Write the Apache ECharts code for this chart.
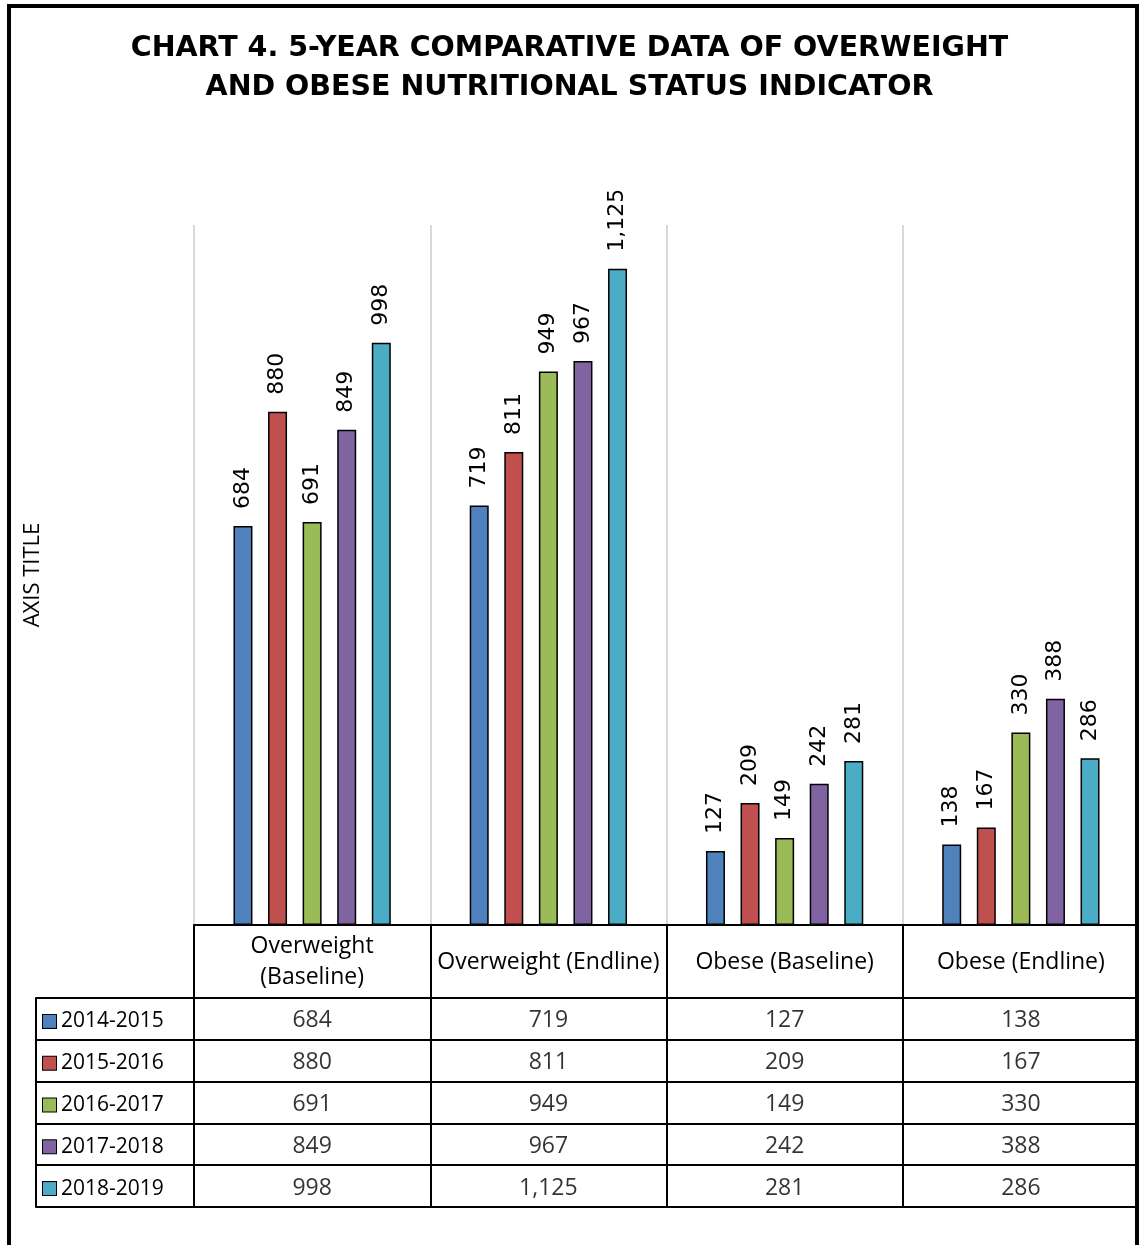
<!DOCTYPE html>
<html>
<head>
<meta charset="utf-8">
<script src="https://cdn.jsdelivr.net/npm/echarts@6/dist/echarts.min.js"></script>
<style>
html,body{margin:0;padding:0;background:#fff;}
#chart{width:1139px;height:1245px;}
</style>
</head>
<body>
<div id="chart"></div>
<script>
// ---- data ----
const categories = ['Overweight (Baseline)', 'Overweight (Endline)', 'Obese (Baseline)', 'Obese (Endline)'];
const headerLabels = ['Overweight\n(Baseline)', 'Overweight (Endline)', 'Obese (Baseline)', 'Obese (Endline)'];
const years = ['2014-2015', '2015-2016', '2016-2017', '2017-2018', '2018-2019'];
const v2014 = [684, 719, 127, 138];
const v2015 = [880, 811, 209, 167];
const v2016 = [691, 949, 149, 330];
const v2017 = [849, 967, 242, 388];
const v2018 = [998, 1125, 281, 286];
const seriesValues = [v2014, v2015, v2016, v2017, v2018];
const colors = ['#4f81bd', '#c0504d', '#9bbb59', '#8064a2', '#4bacc6'];
const yMin = 0, yMax = 1200;

const fmt = v => Number(v).toLocaleString('en-US');
const tableFont = 'Open Sans';

const chart = echarts.init(document.getElementById('chart'), null, {renderer: 'canvas'});

const rich = {t: {fontSize: 21, fontFamily: tableFont, color: '#000', padding: [0, 0, 0, 5]}};
colors.forEach((c, i) => {
  rich['s' + i] = {width: 13, height: 13, backgroundColor: c, borderColor: '#000', borderWidth: 1};
});

const barSeries = years.map((y, i) => ({
  name: y,
  type: 'bar',
  xAxisIndex: 0,
  yAxisIndex: 0,
  data: seriesValues[i],
  barWidth: 19,
  barGap: '82%',
  itemStyle: {color: colors[i], borderColor: '#000', borderWidth: 1.5},
  label: {
    show: true,
    position: 'top',
    rotate: 90,
    align: 'left',
    verticalAlign: 'middle',
    distance: 17,
    fontFamily: 'DejaVu Sans',
    fontSize: 22,
    color: '#000',
    formatter: p => fmt(p.value)
  }
}));

const cellData = [];
years.forEach((y, r) => {
  categories.forEach((c, ci) => {
    cellData.push({value: [ci, r], raw: seriesValues[r][ci]});
  });
});

const option = {
  backgroundColor: '#fff',
  animation: false,
  title: {
    text: 'CHART 4. 5-YEAR COMPARATIVE DATA OF OVERWEIGHT\nAND OBESE NUTRITIONAL STATUS INDICATOR',
    left: 'center',
    top: 24,
    textStyle: {fontFamily: 'DejaVu Sans', fontWeight: 'bold', fontSize: 28.5, lineHeight: 39, color: '#000'}
  },
  grid: [
    {left: 194, top: 225, width: 947, height: 700, containLabel: false},
    {left: 194, top: 998, width: 947, height: 209, containLabel: false}
  ],
  xAxis: [
    {
      type: 'category', gridIndex: 0, data: categories,
      axisLine: {show: true, lineStyle: {color: '#000', width: 2}},
      axisTick: {show: true, length: 73, interval: 0, lineStyle: {color: '#000', width: 2}},
      axisLabel: {
        interval: 0, margin: 37, verticalAlign: 'middle',
        fontFamily: tableFont, fontSize: 23, lineHeight: 31, color: '#000',
        formatter: (v, i) => headerLabels[i]
      },
      splitLine: {show: true, interval: 0, lineStyle: {color: '#d9d9d9', width: 2}}
    },
    {
      type: 'category', gridIndex: 1, data: categories,
      axisLine: {show: false}, axisTick: {show: false}, axisLabel: {show: false},
      splitLine: {show: true, interval: 0, lineStyle: {color: '#000', width: 2}}
    }
  ],
  yAxis: [
    {
      type: 'value', gridIndex: 0, min: yMin, max: yMax,
      name: 'AXIS TITLE', nameLocation: 'middle', nameRotate: 90, nameGap: 150,
      nameTextStyle: {fontFamily: tableFont, fontSize: 22, color: '#000'},
      axisLine: {show: false}, axisTick: {show: false}, axisLabel: {show: false}, splitLine: {show: false}
    },
    {
      type: 'category', gridIndex: 1, data: years, inverse: true,
      axisLine: {show: true, lineStyle: {color: '#000', width: 2}},
      axisTick: {show: true, length: 158, interval: 0, lineStyle: {color: '#000', width: 2}},
      axisLabel: {
        interval: 0, align: 'left', margin: 151, padding: [5, 0, 0, 0],
        formatter: (v, i) => '{s' + i + '|}{t|' + v + '}',
        rich: rich
      },
      splitLine: {show: true, interval: 0, lineStyle: {color: '#000', width: 2}}
    },
    {
      type: 'value', gridIndex: 1, position: 'left', offset: 158,
      axisLine: {show: true, lineStyle: {color: '#000', width: 2}},
      axisTick: {show: false}, axisLabel: {show: false}, splitLine: {show: false}
    }
  ],
  series: barSeries.concat([{
    type: 'scatter',
    xAxisIndex: 1,
    yAxisIndex: 1,
    data: cellData,
    symbolSize: 1,
    itemStyle: {color: 'transparent'},
    label: {
      show: true, position: 'inside', offset: [0, 2],
      fontFamily: tableFont, fontSize: 23, color: '#000',
      formatter: p => fmt(p.data.raw)
    },
    silent: true
  }]),
  graphic: [{
    type: 'rect', z: 100,
    shape: {x: 9, y: 6, width: 1128, height: 1300},
    style: {fill: null, stroke: '#000', lineWidth: 4}
  }]
};
chart.setOption(option);
</script>
</body>
</html>
